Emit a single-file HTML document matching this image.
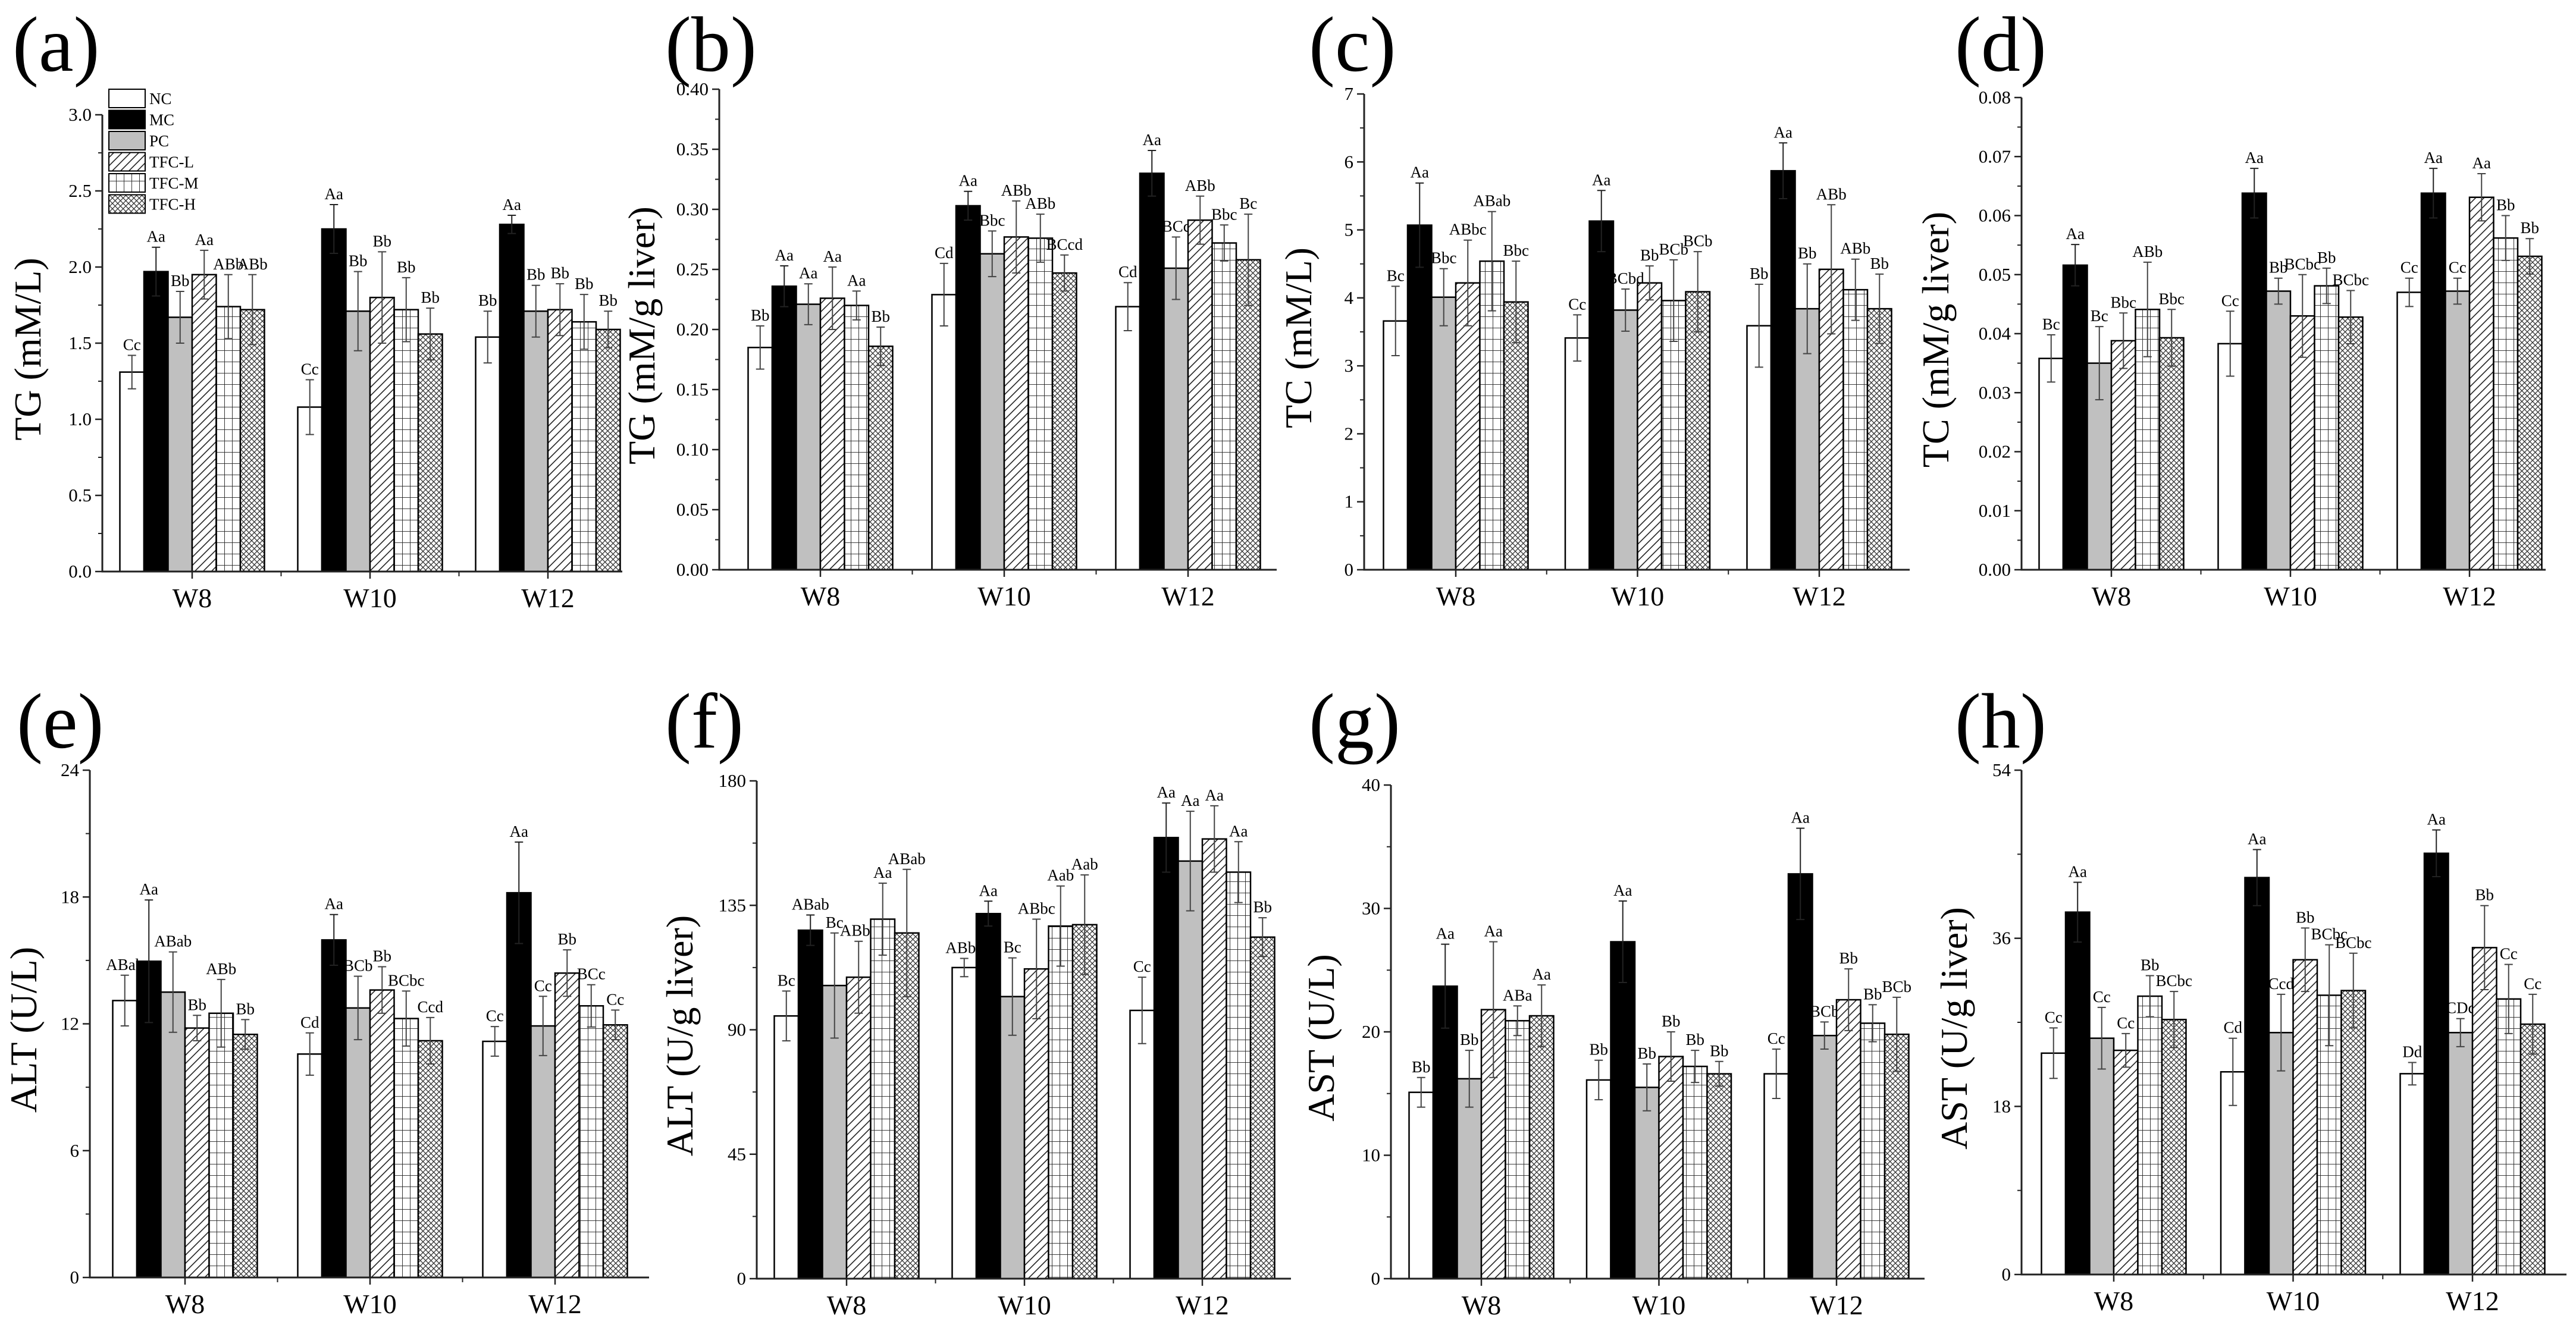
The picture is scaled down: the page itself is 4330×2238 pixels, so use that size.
<!DOCTYPE html>
<html><head><meta charset="utf-8"><style>
html,body{margin:0;padding:0;background:#fff;}
svg{display:block;}
svg text{font-family:"Liberation Serif","DejaVu Serif","Times New Roman",serif !important;fill:#000;}
</style></head><body>
<svg id="fig" width="4330" height="2238" viewBox="0 0 4330 2238" xmlns="http://www.w3.org/2000/svg" font-family="Liberation Serif, DejaVu Serif, serif">
<defs>
<pattern id="pDiag" patternUnits="userSpaceOnUse" width="14" height="14"><rect width="14" height="14" fill="#fff"/><path d="M-2,16 L16,-2 M-4,4 L4,-4 M10,18 L18,10" stroke="#222" stroke-width="1.6"/></pattern>
<pattern id="pGrid" patternUnits="userSpaceOnUse" width="13" height="19"><rect width="13" height="19" fill="#fff"/><path d="M0,0 H13 M0,0 V19" stroke="#222" stroke-width="1.8"/></pattern>
<pattern id="pCross" patternUnits="userSpaceOnUse" width="9" height="9"><rect width="9" height="9" fill="#fff"/><path d="M0,0 L9,9 M9,0 L0,9" stroke="#333" stroke-width="1.3"/></pattern>
</defs>
<g id="root" font-family="Liberation Serif, DejaVu Serif, serif"></g>
</svg>
<script>
const categories = ['W8','W10','W12'];
const seriesNames = ['NC','MC','PC','TFC-L','TFC-M','TFC-H'];

const aMeans = [[1.31,1.97,1.67,1.95,1.74,1.72],[1.08,2.25,1.71,1.80,1.72,1.56],[1.54,2.28,1.71,1.72,1.64,1.59]];
const aErrs = [[0.11,0.16,0.17,0.16,0.21,0.23],[0.18,0.16,0.26,0.30,0.21,0.17],[0.17,0.06,0.17,0.17,0.18,0.12]];
const aLabels = [['Cc','Aa','Bb','Aa','ABb','ABb'],['Cc','Aa','Bb','Bb','Bb','Bb'],['Bb','Aa','Bb','Bb','Bb','Bb']];

const bMeans = [[0.185,0.236,0.221,0.226,0.220,0.186],[0.229,0.303,0.263,0.277,0.276,0.247],[0.219,0.330,0.251,0.291,0.272,0.258]];
const bErrs = [[0.018,0.017,0.017,0.026,0.012,0.016],[0.026,0.012,0.019,0.030,0.020,0.015],[0.020,0.019,0.026,0.020,0.015,0.038]];
const bLabels = [['Bb','Aa','Aa','Aa','Aa','Bb'],['Cd','Aa','Bbc','ABb','ABb','BCcd'],['Cd','Aa','BCc','ABb','Bbc','Bc']];

const cMeans = [[3.66,5.07,4.01,4.22,4.54,3.94],[3.41,5.13,3.82,4.22,3.96,4.09],[3.59,5.87,3.84,4.42,4.12,3.84]];
const cErrs = [[0.51,0.62,0.42,0.63,0.73,0.60],[0.34,0.45,0.31,0.25,0.60,0.59],[0.61,0.41,0.66,0.95,0.45,0.51]];
const cLabels = [['Bc','Aa','Bbc','ABbc','ABab','Bbc'],['Cc','Aa','BCbd','Bb','BCb','BCb'],['Bb','Aa','Bb','ABb','ABb','Bb']];

const dMeans = [[0.0358,0.0516,0.0350,0.0388,0.0441,0.0393],[0.0383,0.0638,0.0472,0.0430,0.0481,0.0428],[0.0470,0.0638,0.0472,0.0631,0.0562,0.0531]];
const dErrs = [[0.0040,0.0035,0.0062,0.0047,0.0080,0.0048],[0.0055,0.0042,0.0022,0.0070,0.0030,0.0045],[0.0024,0.0042,0.0022,0.0040,0.0038,0.0030]];
const dLabels = [['Bc','Aa','Bc','Bbc','ABb','Bbc'],['Cc','Aa','Bb','BCbc','Bb','BCbc'],['Cc','Aa','Cc','Aa','Bb','Bb']];

const eMeans = [[13.1,14.96,13.5,11.8,12.5,11.5],[10.57,15.97,12.75,13.6,12.25,11.2],[11.17,18.2,11.9,14.4,12.85,11.95]];
const eErrs = [[1.2,2.9,1.9,0.6,1.6,0.7],[1.0,1.2,1.5,1.1,1.3,1.1],[0.7,2.4,1.4,1.1,1.0,0.7]];
const eLabels = [['ABab','Aa','ABab','Bb','ABb','Bb'],['Cd','Aa','BCb','Bb','BCbc','Ccd'],['Cc','Aa','Cc','Bb','BCc','Cc']];

const fMeans = [[95,126,106,109,130,125],[112.5,132,102,112,127.5,128],[97,159.5,151,159,147,123.5]];
const fErrs = [[9,5.5,19,13,13,23],[3.3,4.5,14,18,14.5,18],[12,12.5,18,12,11,7]];
const fLabels = [['Bc','ABab','Bc','ABbc','Aa','ABab'],['ABbc','Aa','Bc','ABbc','Aab','Aab'],['Cc','Aa','Aa','Aa','Aa','Bb']];

const gMeans = [[15.1,23.7,16.2,21.8,20.9,21.3],[16.1,27.3,15.5,18.0,17.2,16.6],[16.6,32.8,19.7,22.6,20.7,19.8]];
const gErrs = [[1.2,3.4,2.3,5.5,1.2,2.5],[1.6,3.3,1.9,2.0,1.3,1.0],[2.0,3.7,1.1,2.5,1.5,3.0]];
const gLabels = [['Bb','Aa','Bb','Aa','ABa','Aa'],['Bb','Aa','Bb','Bb','Bb','Bb'],['Cc','Aa','BCb','Bb','Bb','BCb']];

const hMeans = [[23.7,38.8,25.3,24.0,29.8,27.3],[21.7,42.5,25.9,33.7,29.9,30.4],[21.5,45.1,25.9,35.0,29.5,26.8]];
const hErrs = [[2.7,3.2,3.3,1.8,2.2,3.0],[3.6,3.0,4.1,3.4,5.4,4.0],[1.2,2.5,1.5,4.5,3.7,3.2]];
const hLabels = [['Cc','Aa','Cc','Cc','Bb','BCbc'],['Cd','Aa','Ccd','Bb','BCbc','BCbc'],['Dd','Aa','CDc','Bb','Cc','Cc']];

const aTicks = ['0.0','0.5','1.0','1.5','2.0','2.5','3.0'];
const bTicks = ['0.00','0.05','0.10','0.15','0.20','0.25','0.30','0.35','0.40'];
const cTicks = ['0','1','2','3','4','5','6','7'];
const dTicks = ['0.00','0.01','0.02','0.03','0.04','0.05','0.06','0.07','0.08'];
const eTicks = ['0','6','12','18','24'];
const fTicks = ['0','45','90','135','180'];
const gTicks = ['0','10','20','30','40'];
const hTicks = ['0','18','36','54'];

const fills = ['#ffffff','#000000','#c0c0c0','url(#pDiag)','url(#pGrid)','url(#pCross)'];
const NS = 'http://www.w3.org/2000/svg';
const root = document.getElementById('root');
const FONT = 'Liberation Serif, DejaVu Serif, serif';

function mk(tag, attrs, parent){
  const el = document.createElementNS(NS, tag);
  for (const k in attrs) el.setAttribute(k, attrs[k]);
  if (tag === 'text') el.setAttribute('font-family', FONT);
  (parent||root).appendChild(el);
  return el;
}

const panels = [
 {id:'a', means:aMeans, errs:aErrs, labels:aLabels, ticks:aTicks, ax:172, right:1046, top:193, bot:961, c0:323, sp:299, title:'TG (mM/L)', tx:46, lx:21, ly:119, legend:true},
 {id:'b', means:bMeans, errs:bErrs, labels:bLabels, ticks:bTicks, ax:1209, right:2146, top:150, bot:958, c0:1379, sp:309, title:'TG (mM/g liver)', tx:1078, lx:1118, ly:119},
 {id:'c', means:cMeans, errs:cErrs, labels:cLabels, ticks:cTicks, ax:2293, right:3210, top:158, bot:958, c0:2447, sp:305.5, title:'TC (mM/L)', tx:2182, lx:2200, ly:119},
 {id:'d', means:dMeans, errs:dErrs, labels:dLabels, ticks:dTicks, ax:3398, right:4279, top:164, bot:958, c0:3549, sp:301, title:'TC (mM/g liver)', tx:3253, lx:3286, ly:119},
 {id:'e', means:eMeans, errs:eErrs, labels:eLabels, ticks:eTicks, ax:151, right:1091, top:1295, bot:2148, c0:311, sp:311, title:'ALT (U/L)', tx:39, lx:28, ly:1257},
 {id:'f', means:fMeans, errs:fErrs, labels:fLabels, ticks:fTicks, ax:1272, right:2170, top:1313, bot:2150, c0:1423, sp:299, title:'ALT (U/g liver)', tx:1142, lx:1118, ly:1257},
 {id:'g', means:gMeans, errs:gErrs, labels:gLabels, ticks:gTicks, ax:2338, right:3235, top:1320, bot:2150, c0:2490, sp:298.5, title:'AST (U/L)', tx:2220, lx:2200, ly:1257},
 {id:'h', means:hMeans, errs:hErrs, labels:hLabels, ticks:hTicks, ax:3398, right:4314, top:1295, bot:2143, c0:3553, sp:301.5, title:'AST (U/g liver)', tx:3284, lx:3286, ly:1257}
];

const BW = 40.5;

panels.forEach(p => {
  const g = mk('g', {});
  
  
  const tmin = parseFloat(p.ticks[0]);
  const tmax = parseFloat(p.ticks[p.ticks.length-1]);
  const y = v => p.bot - (v - tmin) / (tmax - tmin) * (p.bot - p.top);
  const xc = i => p.c0 + i * p.sp;

  const pl = mk('text', {x:p.lx, y:p.ly, 'font-size':132}, g);
  pl.textContent = '(' + p.id + ')';
  
  

  categories.forEach((cat, gi) => {
    const start = xc(gi) - BW * 3;
    seriesNames.forEach((s, si) => {
      const v = p.means[gi][si];
      const e = p.errs[gi][si];
      const x0 = start + si * BW;
      const r = mk('rect', {x:x0, y:y(v), width:BW, height:y(tmin) - y(v), fill:fills[si], stroke:'#000', 'stroke-width':2.5}, g);
      
      
      const cx = x0 + BW/2;
      const eb = mk('path', {d:`M${cx},${y(v-e)} V${y(v+e)} M${cx-7},${y(v+e)} H${cx+7} M${cx-7},${y(v-e)} H${cx+7}`, stroke: si===1 ? '#222' : '#444', 'stroke-width':2, fill:'none'}, g);
      
      
      const t = mk('text', {x:cx, y:y(v+e) - 9, 'font-size':27, 'text-anchor':'middle'}, g);
      t.textContent = p.labels[gi][si];
      
      
    });
  });

  const axes = mk('path', {d:`M${p.ax},${p.top} V${p.bot} H${p.right}`, stroke:'#222', 'stroke-width':3, fill:'none'}, g);
  
  

  p.ticks.forEach((lab, i) => {
    const v = parseFloat(lab);
    const ty = y(v);
    mk('path', {d:`M${p.ax-12},${ty} H${p.ax}`, stroke:'#222', 'stroke-width':2.5}, g);
    if (i < p.ticks.length - 1) {
      const mv = (v + parseFloat(p.ticks[i+1])) / 2;
      mk('path', {d:`M${p.ax-7},${y(mv)} H${p.ax}`, stroke:'#222', 'stroke-width':2}, g);
    }
    const t = mk('text', {x:p.ax - 18, y:ty + 10, 'font-size':31, 'text-anchor':'end'}, g);
    t.textContent = lab;
    
    
  });

  categories.forEach((cat, gi) => {
    const cx = xc(gi);
    mk('path', {d:`M${cx},${p.bot} V${p.bot+12}`, stroke:'#222', 'stroke-width':2.5}, g);
    if (gi < categories.length - 1) {
      mk('path', {d:`M${cx + p.sp/2},${p.bot} V${p.bot+8}`, stroke:'#222', 'stroke-width':2}, g);
    }
    const t = mk('text', {x:cx, y:p.bot + 60, 'font-size':46, 'text-anchor':'middle'}, g);
    t.textContent = cat;
    
    
  });

  const cy = (p.top + p.bot) / 2 + 10;
  const yt = mk('text', {x:0, y:0, 'font-size':64, 'text-anchor':'middle', transform:`translate(${p.tx + 22},${cy}) rotate(-90)`}, g);
  yt.textContent = p.title;
  
  

  if (p.legend) {
    const lg = mk('g', {}, g);
    
    
    seriesNames.forEach((s, si) => {
      const ry = 150 + si * 35.5;
      const r = mk('rect', {x:183, y:ry, width:61, height:31, fill:fills[si], stroke:'#000', 'stroke-width':2}, lg);
      
      
      const t = mk('text', {x:251, y:ry + 25, 'font-size':27}, lg);
      t.textContent = s;
      
      
    });
  }
});
</script>
</body></html>
